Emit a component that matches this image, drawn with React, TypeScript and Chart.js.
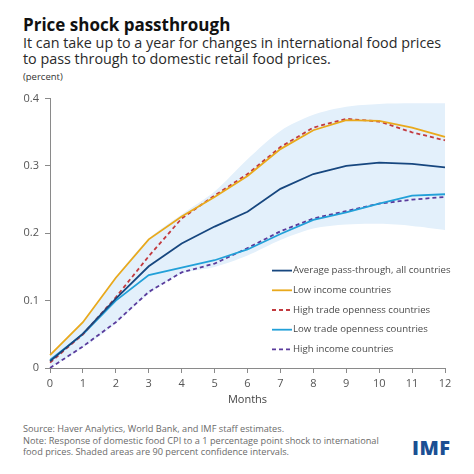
import React, { useRef, useEffect } from "react";
import { Chart, registerables } from "chart.js";

Chart.register(...registerables);

const months = ["0", "1", "2", "3", "4", "5", "6", "7", "8", "9", "10", "11", "12"];
const yTicks = [0, 0.1, 0.2, 0.3, 0.4];

const average = [0.01, 0.051, 0.103, 0.151, 0.185, 0.21, 0.232, 0.266, 0.288, 0.3, 0.305, 0.303, 0.298];
const lowIncome = [0.019, 0.068, 0.134, 0.191, 0.225, 0.254, 0.285, 0.325, 0.353, 0.368, 0.367, 0.357, 0.343];
const highOpenness = [0.008, 0.05, 0.105, 0.166, 0.222, 0.256, 0.288, 0.328, 0.357, 0.37, 0.366, 0.35, 0.338];
const lowOpenness = [0.012, 0.05, 0.1, 0.138, 0.149, 0.16, 0.176, 0.199, 0.22, 0.231, 0.244, 0.256, 0.258];
const highIncome = [0.0, 0.032, 0.068, 0.113, 0.142, 0.155, 0.178, 0.203, 0.222, 0.233, 0.244, 0.25, 0.254];

const bandLower = [0.0, 0.03, 0.066, 0.11, 0.14, 0.15, 0.167, 0.19, 0.207, 0.213, 0.214, 0.211, 0.205];
const bandUpper = [0.02, 0.069, 0.135, 0.192, 0.228, 0.262, 0.31, 0.352, 0.376, 0.388, 0.392, 0.393, 0.393];

const legendPlugin = {
  id: "insideLegend",
  afterDatasetsDraw(chart: any) {
    const { ctx, chartArea } = chart;
    const x0 = chartArea.left + 222;
    const y0 = chartArea.top + 172;
    ctx.save();
    ctx.font = "9.6px 'Open Sans'";
    ctx.textBaseline = "middle";
    let row = 0;
    chart.data.datasets.forEach((ds: any) => {
      if (ds.isBand) return;
      const y = y0 + row * 19.7;
      ctx.strokeStyle = ds.borderColor;
      ctx.lineWidth = 1.8;
      ctx.setLineDash(ds.borderDash || []);
      ctx.beginPath();
      ctx.moveTo(x0, y);
      ctx.lineTo(x0 + 20, y);
      ctx.stroke();
      ctx.setLineDash([]);
      ctx.fillStyle = "#4a4a4a";
      ctx.fillText(ds.label, x0 + 21, y);
      row++;
    });
    ctx.restore();
  },
};

const ShockChart: React.FC = () => {
  const chartRef = useRef<HTMLCanvasElement | null>(null);
  const chartInstance = useRef<Chart | null>(null);

  useEffect(() => {
    if (chartInstance.current) {
      chartInstance.current.destroy();
    }
    if (!chartRef.current) return;

    const line = (label: string, data: number[], color: string, dash?: number[]) => ({
      label,
      data,
      borderColor: color,
      borderWidth: 1.8,
      borderDash: dash,
      pointRadius: 0,
      fill: false,
      tension: 0,
    });

    chartInstance.current = new Chart(chartRef.current, {
      type: "line",
      data: {
        labels: months,
        datasets: [
          line("Average pass-through, all countries", average, "#17477f"),
          line("Low income countries", lowIncome, "#e9a91c"),
          line("High trade openness countries", highOpenness, "#c23a3f", [4, 3]),
          line("Low trade openness countries", lowOpenness, "#22a0d8"),
          line("High income countries", highIncome, "#5a3b9c", [4, 3]),
          {
            label: "band-lower",
            isBand: true,
            data: bandLower,
            borderWidth: 0,
            pointRadius: 0,
            fill: false,
            tension: 0.3,
          } as any,
          {
            label: "band-upper",
            isBand: true,
            data: bandUpper,
            borderWidth: 0,
            pointRadius: 0,
            backgroundColor: "#e3f0fb",
            fill: "-1",
            tension: 0.3,
          } as any,
        ],
      },
      options: {
        animation: false,
        responsive: false,
        maintainAspectRatio: false,
        layout: { padding: { top: 10, right: 29, left: 0, bottom: 6 } },
        plugins: {
          legend: { display: false },
          tooltip: { enabled: false },
          filler: { drawTime: "beforeDatasetsDraw" },
        },
        scales: {
          x: {
            type: "category",
            offset: false,
            grid: {
              display: true,
              drawOnChartArea: false,
              drawTicks: true,
              tickLength: 5,
              color: "#8a8a8a",
            },
            border: { color: "#8a8a8a", width: 1 },
            ticks: {
              color: "#555",
              font: { family: "'Open Sans'", size: 11 },
              padding: 4,
              maxRotation: 0,
            },
            title: {
              display: true,
              text: "Months",
              color: "#444",
              font: { family: "'Open Sans'", size: 11 },
              padding: { top: 2, bottom: 0 },
            },
            afterFit(scale: any) {
              scale.height = 38;
            },
          },
          y: {
            min: 0,
            max: 0.4,
            afterBuildTicks(scale: any) {
              scale.ticks = yTicks.map((v) => ({ value: v }));
            },
            grid: {
              display: true,
              drawOnChartArea: false,
              drawTicks: true,
              tickLength: 5,
              color: "#8a8a8a",
            },
            border: { color: "#8a8a8a", width: 1 },
            ticks: {
              color: "#555",
              font: { family: "'Open Sans'", size: 11 },
              padding: 6,
              callback: (v: any) => (v === 0 ? "0" : Number(v).toFixed(1)),
            },
            afterFit(scale: any) {
              scale.width = 50;
            },
          },
        },
      },
      plugins: [legendPlugin],
    });

    return () => {
      if (chartInstance.current) {
        chartInstance.current.destroy();
        chartInstance.current = null;
      }
    };
  }, []);

  return (
    <canvas
      ref={chartRef}
      width={474}
      height={326}
      style={{ position: "absolute", left: 0, top: 86, width: 474, height: 326 }}
    ></canvas>
  );
};

const App: React.FC = () => {
  const font = "'Open Sans', sans-serif";
  return (
    <div
      style={{
        position: "fixed",
        left: 0,
        top: 0,
        width: 474,
        height: 474,
        background: "#fff",
        fontFamily: font,
        overflow: "hidden",
      }}
    >
      <div style={{ position: "absolute", left: 23, top: 14, fontSize: 17, fontWeight: 700, color: "#111", lineHeight: "22px" }}>
        Price shock passthrough
      </div>
      <div style={{ position: "absolute", left: 23, top: 35, fontSize: 14.35, color: "#2a2a2a", lineHeight: "15.5px", whiteSpace: "nowrap" }}>
        It can take up to a year for changes in international food prices
        <br />
        to pass through to domestic retail food prices.
      </div>
      <div style={{ position: "absolute", left: 23, top: 71, fontSize: 9.5, color: "#333", lineHeight: "12px" }}>
        (percent)
      </div>
      <ShockChart />
      <div style={{ position: "absolute", left: 23, top: 423, fontSize: 9.2, color: "#6a6a6a", lineHeight: "11.6px", whiteSpace: "nowrap" }}>
        Source: Haver Analytics, World Bank, and IMF staff estimates.
        <br />
        Note: Response of domestic food CPI to a 1 percentage point shock to international
        <br />
        food prices. Shaded areas are 90 percent confidence intervals.
      </div>
      <div style={{ position: "absolute", left: 412, top: 436, fontSize: 20, fontWeight: 800, color: "#1b4f93", letterSpacing: 0.5, lineHeight: "24px" }}>
        IMF
      </div>
    </div>
  );
};

export default App;
